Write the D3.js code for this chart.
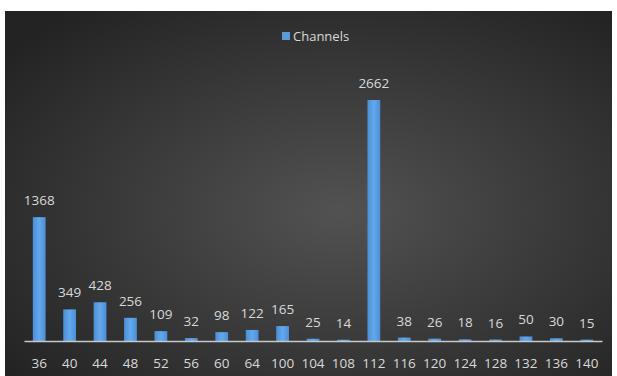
<!DOCTYPE html>
<html>
<head>
<meta charset="utf-8">
<script src="https://cdn.jsdelivr.net/npm/d3@7"></script>
<style>
  body { margin: 0; background: #fff; }
  svg { display: block; }
</style>
</head>
<body>
<svg id="chart"></svg>
<script>
var channels = ['36','40','44','48','52','56','60','64','100','104','108','112','116','120','124','128','132','136','140'];
var counts = [1368, 349, 428, 256, 109, 32, 98, 122, 165, 25, 14, 2662, 38, 26, 18, 16, 50, 30, 15];
var seriesName = 'Channels';

var width = 617;
var height = 376;

var svg = d3.select('#chart').attr('width', width).attr('height', height);

// dark radial background, lighter toward the middle
var defs = svg.append('defs');
var bg = defs.append('radialGradient').attr('id', 'bg')
  .attr('cx', '55%').attr('cy', '55%').attr('r', '70%');
bg.append('stop').attr('offset', '0%').attr('stop-color', '#525252');
bg.append('stop').attr('offset', '100%').attr('stop-color', '#232323');

var barGrad = defs.append('linearGradient').attr('id', 'barGrad')
  .attr('x1', '0').attr('x2', '1').attr('y1', '0').attr('y2', '0');
barGrad.append('stop').attr('offset', '0%').attr('stop-color', '#4a8fd6');
barGrad.append('stop').attr('offset', '50%').attr('stop-color', '#64a8ec');
barGrad.append('stop').attr('offset', '100%').attr('stop-color', '#4a8fd6');

svg.append('rect')
  .attr('x', 5).attr('y', 11)
  .attr('width', 607).attr('height', 365)
  .attr('fill', 'url(#bg)');

var x = d3.scaleBand().domain(channels).range([24, 602]).paddingInner(0.58).paddingOuter(0.29);
var y = d3.scaleLinear().domain([0, 2662]).range([341, 100]);

var font = '"Open Sans", "Liberation Sans", sans-serif';

svg.selectAll('.bar')
  .data(counts)
  .enter()
  .append('rect')
  .attr('class', 'bar')
  .attr('x', function(d, i) { return x(channels[i]); })
  .attr('y', function(d) { return y(d); })
  .attr('width', x.bandwidth())
  .attr('height', function(d) { return y(0) - y(d); })
  .attr('fill', 'url(#barGrad)');

// axis line + category labels
var axis = svg.append('g')
  .attr('transform', 'translate(0,' + y(0) + ')')
  .call(d3.axisBottom(x).tickSize(0).tickPadding(17));
axis.select('.domain').attr('stroke', '#c8c8c8').attr('stroke-width', 1.5);
axis.selectAll('text')
  .attr('fill', '#d9d9d9')
  .attr('font-family', font)
  .attr('font-size', 13.5);

svg.selectAll('.lbl')
  .data(counts)
  .enter()
  .append('text')
  .attr('class', 'lbl')
  .attr('x', function(d, i) { return x(channels[i]) + x.bandwidth() / 2; })
  .attr('y', function(d) { return y(d) - 12; })
  .attr('text-anchor', 'middle')
  .attr('fill', '#d9d9d9')
  .attr('font-family', font)
  .attr('font-size', 13.5)
  .text(function(d) { return d; });

// legend
var legend = svg.append('g').attr('transform', 'translate(282,32)');
legend.append('rect').attr('width', 8).attr('height', 8).attr('fill', '#5b9bd5');
legend.append('text')
  .attr('x', 11).attr('y', 8.5)
  .attr('fill', '#d9d9d9')
  .attr('font-family', font)
  .attr('font-size', 13)
  .text(seriesName);
</script>
</body>
</html>
